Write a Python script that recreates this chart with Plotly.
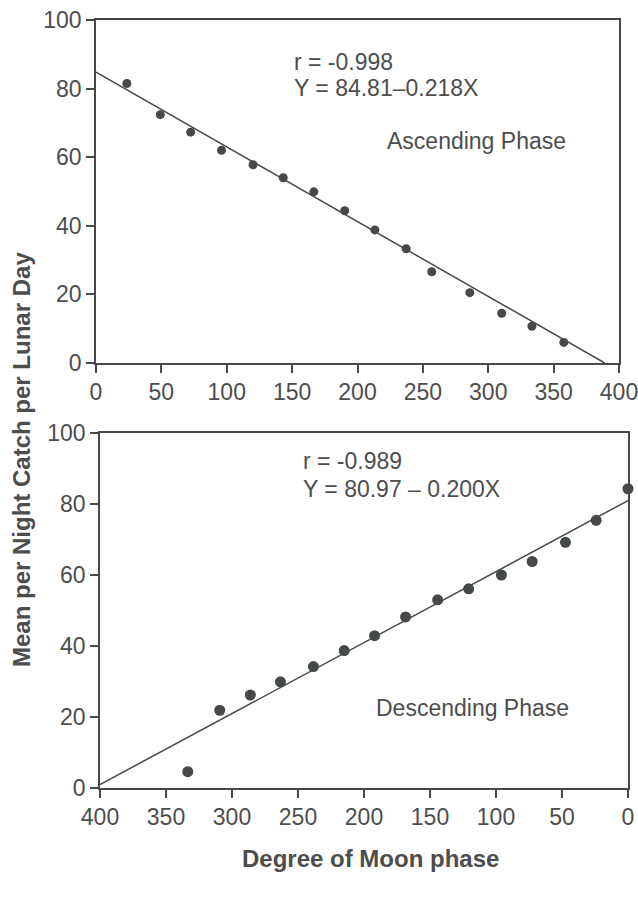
import plotly.graph_objects as go

# Ascending phase (top panel)
asc_x = [23.6, 49.2, 72.4, 96.0, 120.1, 143.2, 166.6, 190.2, 213.3, 237.2, 256.8, 285.9, 310.3, 333.4, 357.8]
asc_y = [81.5, 72.4, 67.3, 62.0, 57.8, 54.0, 49.9, 44.4, 38.8, 33.3, 26.6, 20.5, 14.5, 10.7, 6.0]
asc_a, asc_b = 84.81, -0.218

# Descending phase (bottom panel)
desc_x = [333.5, 309.3, 286.1, 263.3, 238.3, 215.0, 192.0, 168.5, 144.2, 120.7, 95.9, 72.6, 47.4, 24.1, 0.0]
desc_y = [4.6, 21.9, 26.2, 29.9, 34.2, 38.7, 42.9, 48.2, 53.0, 56.1, 60.0, 63.8, 69.2, 75.4, 84.3]
desc_a, desc_b = 80.97, -0.200

x_ticks = [0, 50, 100, 150, 200, 250, 300, 350, 400]
y_ticks = [0, 20, 40, 60, 80, 100]

LINE = "#454a47"
TXT = "#4d4d4d"
FONT = "Liberation Sans, Arial, sans-serif"

W, H = 638, 900


def fx(px):
    return px / W


def fy(py):
    return 1 - py / H


fig = go.Figure()

x_end = -asc_a / asc_b
fig.add_trace(go.Scatter(x=[0, x_end], y=[asc_a, asc_a + asc_b * x_end], mode="lines",
                         line=dict(color=LINE, width=1.5), xaxis="x", yaxis="y", showlegend=False))
fig.add_trace(go.Scatter(x=asc_x, y=asc_y, mode="markers",
                         marker=dict(color=LINE, size=9), xaxis="x", yaxis="y", showlegend=False))

fig.add_trace(go.Scatter(x=[400, 0], y=[desc_a + desc_b * 400, desc_a], mode="lines",
                         line=dict(color=LINE, width=1.5), xaxis="x2", yaxis="y2", showlegend=False))
fig.add_trace(go.Scatter(x=desc_x, y=desc_y, mode="markers",
                         marker=dict(color=LINE, size=11), xaxis="x2", yaxis="y2", showlegend=False,
                         cliponaxis=False))

axis_common = dict(showgrid=False, zeroline=False, showline=True, linecolor=LINE, linewidth=1.5,
                   mirror=True, ticks="outside", ticklen=8, tickwidth=1.5, tickcolor=LINE,
                   automargin=False, ticklabeloverflow="allow",
                   tickfont=dict(family=FONT, size=23, color=TXT))

fig.update_layout(
    width=W, height=H,
    margin=dict(l=0, r=0, t=0, b=0),
    paper_bgcolor="white", plot_bgcolor="white",
    xaxis=dict(domain=[fx(96), fx(619)], range=[0, 400], tickvals=x_ticks, anchor="y", **axis_common),
    yaxis=dict(domain=[fy(363), fy(20)], range=[0, 100], tickvals=y_ticks, anchor="x", **axis_common),
    xaxis2=dict(domain=[fx(100), fx(628)], range=[400, 0], tickvals=x_ticks, anchor="y2", **axis_common),
    yaxis2=dict(domain=[fy(788), fy(433)], range=[0, 100], tickvals=y_ticks, anchor="x2", **axis_common),
)

ann_font = dict(family=FONT, size=23, color=TXT)
anns = [
    ("r = -0.998", 292, 62),
    ("Y = 84.81\u20130.218X", 292, 88),
    ("Ascending Phase", 385, 141),
    ("r = -0.989", 301, 461),
    ("Y = 80.97 \u2013 0.200X", 301, 489),
    ("Descending Phase", 374, 708),
]
for t, px, py in anns:
    fig.add_annotation(text=t, x=fx(px), y=fy(py), xref="paper", yref="paper",
                       xanchor="left", yanchor="middle", showarrow=False, font=ann_font)

fig.add_annotation(text="<b>Mean per Night Catch per Lunar Day</b>", x=fx(22), y=fy(460),
                   xref="paper", yref="paper", textangle=-90, showarrow=False,
                   xanchor="center", yanchor="middle",
                   font=dict(family=FONT, size=24, color=TXT))
fig.add_annotation(text="<b>Degree of Moon phase</b>", x=fx(370), y=fy(858),
                   xref="paper", yref="paper", showarrow=False,
                   xanchor="center", yanchor="middle",
                   font=dict(family=FONT, size=24, color=TXT))

fig.write_html("out.html",
               config={"displayModeBar": False},
               post_script="document.body.style.margin='0px';document.body.style.overflow='hidden';")
